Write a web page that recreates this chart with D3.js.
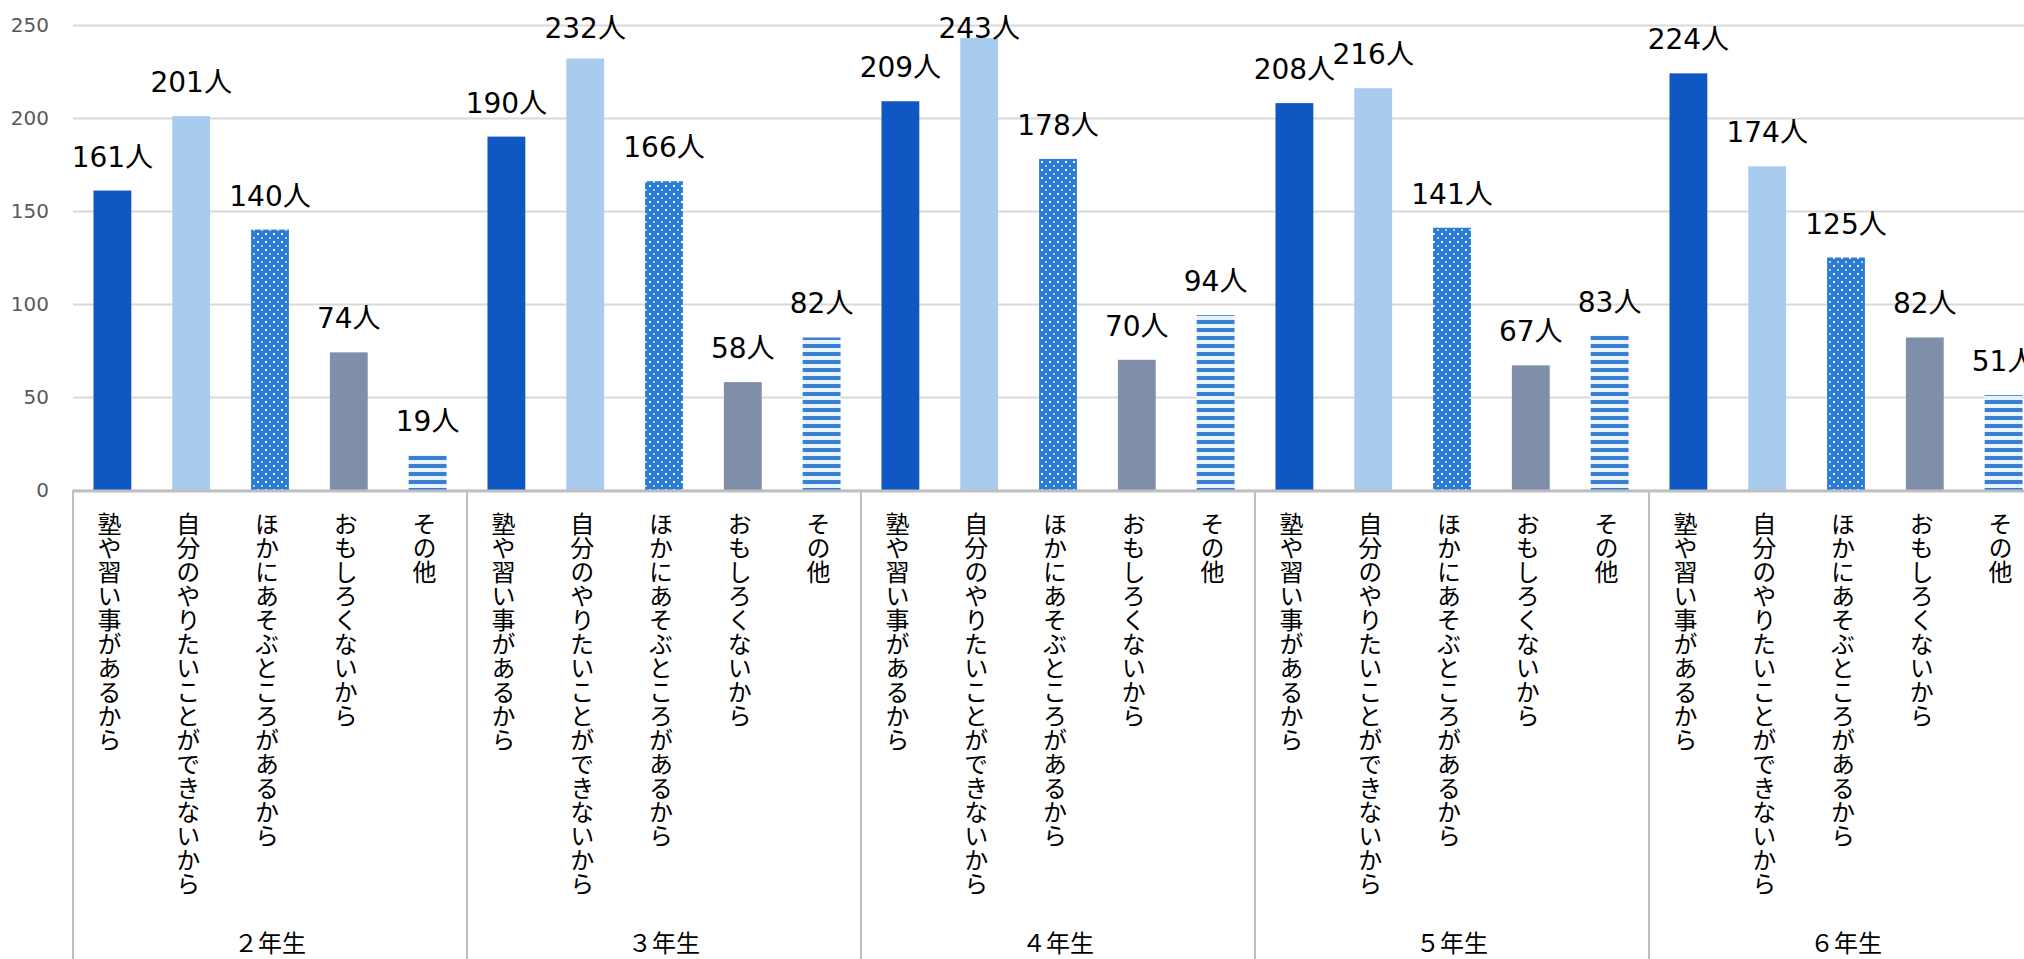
<!DOCTYPE html>
<html>
<head>
<meta charset="utf-8">
<script src="https://cdn.jsdelivr.net/npm/d3@7"></script>
<style>
  body { margin: 0; background: #fff; }
  svg { display: block; font-family: "Noto Sans CJK JP", "Noto Sans", sans-serif; }
</style>
</head>
<body>
<div id="plot"></div>
<script>

// data

  var grades = ["２年生", "３年生", "４年生", "５年生", "６年生"];
  var reasons = ["塾や習い事があるから", "自分のやりたいことができないから",
      "ほかにあそぶところがあるから", "おもしろくないから", "その他"];

  var juku   = [161, 190, 209, 208, 224];
  var jibun  = [201, 232, 243, 216, 174];
  var hoka   = [140, 166, 178, 141, 125];
  var omoshiroku = [74, 58, 70, 67, 82];
  var sonota = [19, 82, 94, 83, 51];

  var yTicks = [0, 50, 100, 150, 200, 250];

  var series = [juku, jibun, hoka, omoshiroku, sonota];

// layout

  var w = 2024;
  var h = 959;
  var left = 73;
  var groupW = 394;
  var y0 = 490;

  var svg = d3.select("div#plot")
    .append("svg")
      .attr("width", w)
      .attr("height", h);

// patterns

  var defs = svg.append("defs");

  var dots = defs.append("pattern")
      .attr("id", "dots")
      .attr("patternUnits", "userSpaceOnUse")
      .attr("width", 8)
      .attr("height", 8);
  dots.append("rect").attr("width", 8).attr("height", 8).attr("fill", "#2d7bd5");
  dots.append("rect").attr("x", 1).attr("y", 1).attr("width", 2).attr("height", 2).attr("fill", "#e8f6ff");
  dots.append("rect").attr("x", 5).attr("y", 5).attr("width", 2).attr("height", 2).attr("fill", "#9fd6fb");

  var stripes = defs.append("pattern")
      .attr("id", "stripes")
      .attr("patternUnits", "userSpaceOnUse")
      .attr("width", 8)
      .attr("height", 8);
  stripes.append("rect").attr("width", 8).attr("height", 8).attr("fill", "#e6f3ff");
  stripes.append("rect").attr("y", 0).attr("width", 8).attr("height", 4).attr("fill", "#3b7fd0");

  var fills = ["#0f57c3", "#a9cbee", "url(#dots)", "#7f8fa9", "url(#stripes)"];

// scales

  var xGroup = d3.scaleBand()
      .domain(grades)
      .range([left, left + groupW * grades.length]);

  var xInner = d3.scaleBand()
      .domain(d3.range(reasons.length))
      .range([0, xGroup.bandwidth()])
      .paddingInner(0.52)
      .paddingOuter(0.26);

  var yScale = d3.scaleLinear()
      .domain([0, 250])
      .range([y0, 25]);

// gridlines and y axis

  var yAxis = d3.axisLeft(yScale)
      .tickValues(yTicks)
      .tickSize(-(w - left))
      .tickPadding(24);

  var yg = svg.append("g")
      .attr("transform", `translate(${left},0)`)
      .call(yAxis);
  yg.select(".domain").remove();
  yg.selectAll(".tick line")
      .attr("stroke", "#d9d9d9")
      .attr("stroke-width", 2);
  yg.selectAll(".tick text")
      .attr("fill", "#595959")
      .attr("font-size", 20)
      .attr("font-family", "'DejaVu Sans', sans-serif");

// bars

  var data = [];
  grades.forEach(function(g, gi) {
    series.forEach(function(s, si) {
      data.push({grade: g, k: si, value: s[gi]});
    });
  });

  svg.append("g")
    .selectAll("rect")
    .data(data)
    .enter().append("rect")
      .attr("x", d => xGroup(d.grade) + xInner(d.k))
      .attr("y", d => yScale(d.value))
      .attr("width", xInner.bandwidth())
      .attr("height", d => y0 - yScale(d.value))
      .attr("fill", d => fills[d.k]);

// value labels

  svg.append("g")
    .selectAll("text")
    .data(data)
    .enter().append("text")
      .attr("x", d => xGroup(d.grade) + xInner(d.k) + xInner.bandwidth() / 2)
      .attr("y", d => Math.max(yScale(d.value) - 24, 38))
      .attr("text-anchor", "middle")
      .attr("font-size", 28)
      .attr("font-family", "'DejaVu Sans', 'Noto Sans CJK JP', sans-serif")
      .attr("fill", "#000")
      .text(d => d.value + "人");

// category axis

  svg.append("line")
      .attr("x1", left).attr("x2", w)
      .attr("y1", y0 + 1).attr("y2", y0 + 1)
      .attr("stroke", "#bfbfbf")
      .attr("stroke-width", 3);

  svg.append("g")
    .selectAll("line")
    .data(grades.concat(["end"]))
    .enter().append("line")
      .attr("x1", (d, i) => left + i * xGroup.bandwidth())
      .attr("x2", (d, i) => left + i * xGroup.bandwidth())
      .attr("y1", y0)
      .attr("y2", h)
      .attr("stroke", "#bfbfbf")
      .attr("stroke-width", 2);

  svg.append("g")
    .selectAll("text")
    .data(data)
    .enter().append("text")
      .attr("x", d => xGroup(d.grade) + xInner(d.k) + xInner.bandwidth() / 2 - 3)
      .attr("y", 512)
      .attr("writing-mode", "vertical-rl")
      .style("writing-mode", "vertical-rl")
      .attr("font-size", 24)
      .attr("fill", "#000")
      .text(d => reasons[d.k]);

  svg.append("g")
    .selectAll("text")
    .data(grades)
    .enter().append("text")
      .attr("x", d => xGroup(d) + xGroup.bandwidth() / 2)
      .attr("y", 952)
      .attr("text-anchor", "middle")
      .attr("font-size", 24)
      .attr("fill", "#000")
      .text(d => d);

</script>
</body>
</html>
